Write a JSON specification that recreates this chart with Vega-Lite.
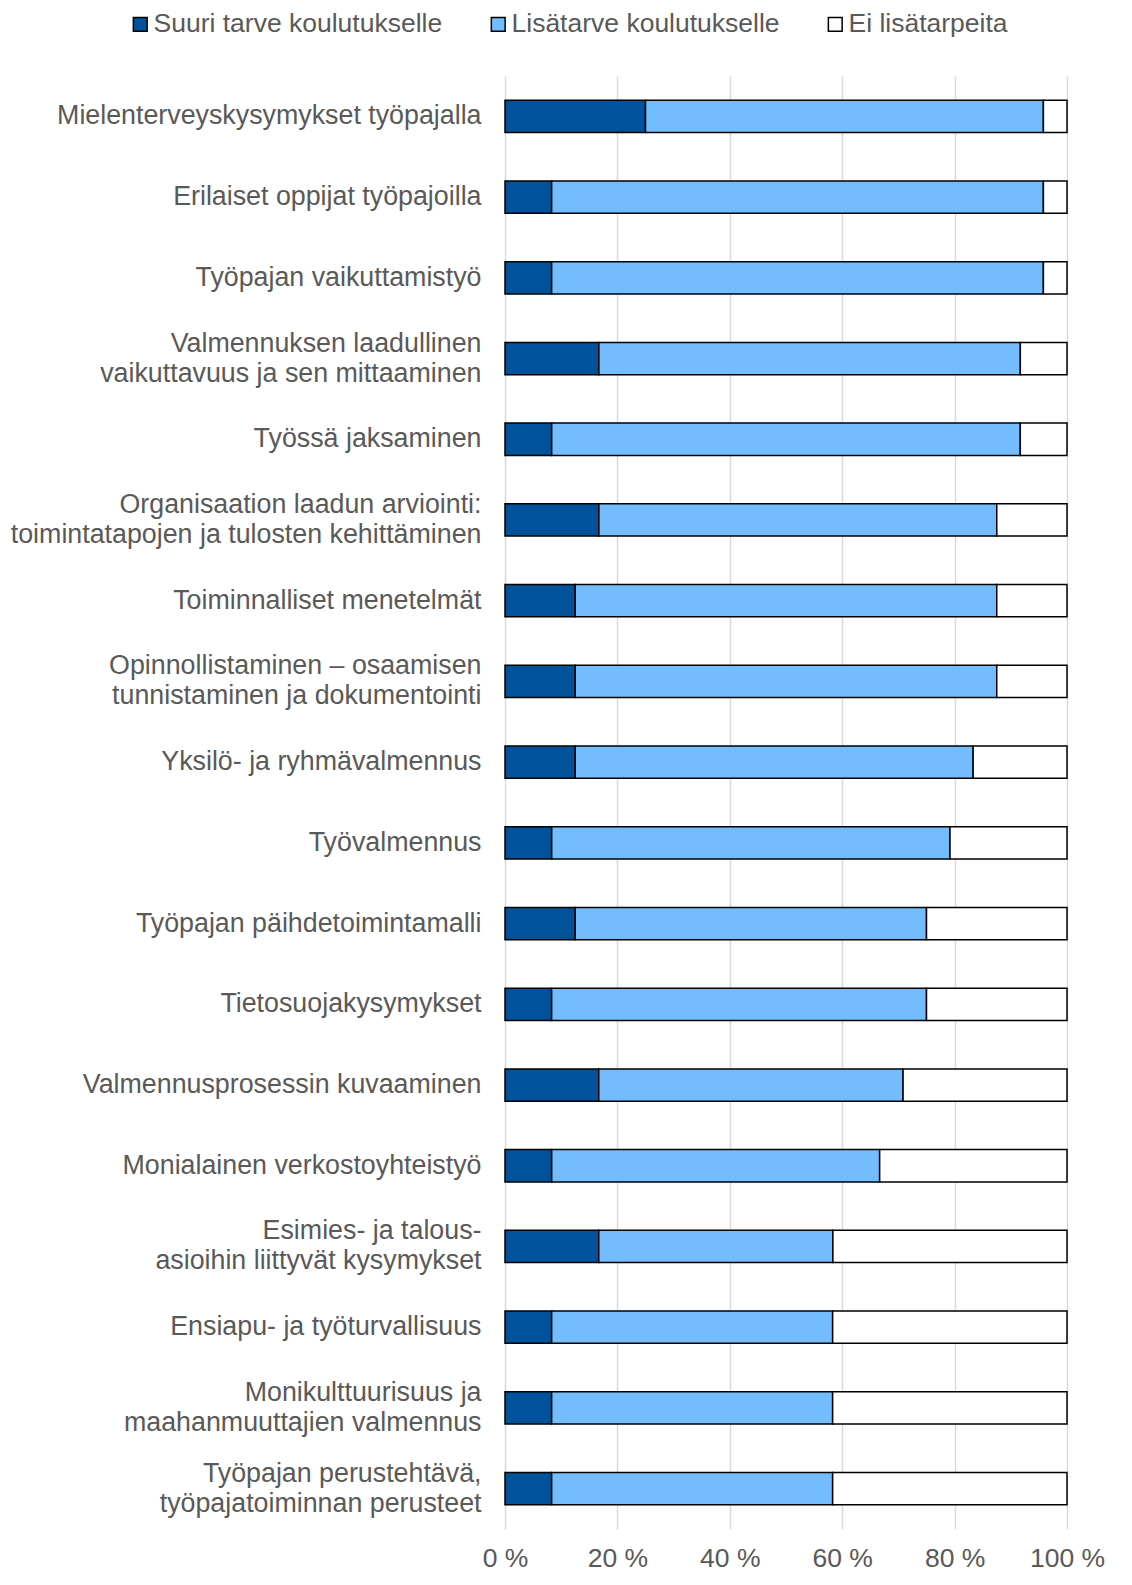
{
  "$schema": "https://vega.github.io/schema/vega-lite/v6.json",
  "autosize": {"type": "none"},
  "width": 562,
  "height": 1453,
  "padding": {"left": 505, "top": 76, "right": 65, "bottom": 56},
  "background": "white",
  "config": {
    "view": {"stroke": null},
    "font": "Liberation Sans",
    "axis": {"labelColor": "#595959", "labelFont": "Liberation Sans"},
    "legend": {"labelColor": "#595959", "labelFont": "Liberation Sans"}
  },
  "data": {
    "values": [
      {"aihe": "Mielenterveyskysymykset työpajalla", "sarja": "Suuri tarve koulutukselle", "jarj": 1, "osuus": 25.0},
      {"aihe": "Mielenterveyskysymykset työpajalla", "sarja": "Lisätarve koulutukselle", "jarj": 2, "osuus": 70.8},
      {"aihe": "Mielenterveyskysymykset työpajalla", "sarja": "Ei lisätarpeita", "jarj": 3, "osuus": 4.2},
      {"aihe": "Erilaiset oppijat työpajoilla", "sarja": "Suuri tarve koulutukselle", "jarj": 1, "osuus": 8.3},
      {"aihe": "Erilaiset oppijat työpajoilla", "sarja": "Lisätarve koulutukselle", "jarj": 2, "osuus": 87.5},
      {"aihe": "Erilaiset oppijat työpajoilla", "sarja": "Ei lisätarpeita", "jarj": 3, "osuus": 4.2},
      {"aihe": "Työpajan vaikuttamistyö", "sarja": "Suuri tarve koulutukselle", "jarj": 1, "osuus": 8.3},
      {"aihe": "Työpajan vaikuttamistyö", "sarja": "Lisätarve koulutukselle", "jarj": 2, "osuus": 87.5},
      {"aihe": "Työpajan vaikuttamistyö", "sarja": "Ei lisätarpeita", "jarj": 3, "osuus": 4.2},
      {"aihe": "Valmennuksen laadullinen\nvaikuttavuus ja sen mittaaminen", "sarja": "Suuri tarve koulutukselle", "jarj": 1, "osuus": 16.7},
      {"aihe": "Valmennuksen laadullinen\nvaikuttavuus ja sen mittaaminen", "sarja": "Lisätarve koulutukselle", "jarj": 2, "osuus": 75.0},
      {"aihe": "Valmennuksen laadullinen\nvaikuttavuus ja sen mittaaminen", "sarja": "Ei lisätarpeita", "jarj": 3, "osuus": 8.3},
      {"aihe": "Työssä jaksaminen", "sarja": "Suuri tarve koulutukselle", "jarj": 1, "osuus": 8.3},
      {"aihe": "Työssä jaksaminen", "sarja": "Lisätarve koulutukselle", "jarj": 2, "osuus": 83.3},
      {"aihe": "Työssä jaksaminen", "sarja": "Ei lisätarpeita", "jarj": 3, "osuus": 8.3},
      {"aihe": "Organisaation laadun arviointi:\ntoimintatapojen ja tulosten kehittäminen", "sarja": "Suuri tarve koulutukselle", "jarj": 1, "osuus": 16.7},
      {"aihe": "Organisaation laadun arviointi:\ntoimintatapojen ja tulosten kehittäminen", "sarja": "Lisätarve koulutukselle", "jarj": 2, "osuus": 70.8},
      {"aihe": "Organisaation laadun arviointi:\ntoimintatapojen ja tulosten kehittäminen", "sarja": "Ei lisätarpeita", "jarj": 3, "osuus": 12.5},
      {"aihe": "Toiminnalliset menetelmät", "sarja": "Suuri tarve koulutukselle", "jarj": 1, "osuus": 12.5},
      {"aihe": "Toiminnalliset menetelmät", "sarja": "Lisätarve koulutukselle", "jarj": 2, "osuus": 75.0},
      {"aihe": "Toiminnalliset menetelmät", "sarja": "Ei lisätarpeita", "jarj": 3, "osuus": 12.5},
      {"aihe": "Opinnollistaminen – osaamisen\ntunnistaminen ja dokumentointi", "sarja": "Suuri tarve koulutukselle", "jarj": 1, "osuus": 12.5},
      {"aihe": "Opinnollistaminen – osaamisen\ntunnistaminen ja dokumentointi", "sarja": "Lisätarve koulutukselle", "jarj": 2, "osuus": 75.0},
      {"aihe": "Opinnollistaminen – osaamisen\ntunnistaminen ja dokumentointi", "sarja": "Ei lisätarpeita", "jarj": 3, "osuus": 12.5},
      {"aihe": "Yksilö- ja ryhmävalmennus", "sarja": "Suuri tarve koulutukselle", "jarj": 1, "osuus": 12.5},
      {"aihe": "Yksilö- ja ryhmävalmennus", "sarja": "Lisätarve koulutukselle", "jarj": 2, "osuus": 70.8},
      {"aihe": "Yksilö- ja ryhmävalmennus", "sarja": "Ei lisätarpeita", "jarj": 3, "osuus": 16.7},
      {"aihe": "Työvalmennus", "sarja": "Suuri tarve koulutukselle", "jarj": 1, "osuus": 8.3},
      {"aihe": "Työvalmennus", "sarja": "Lisätarve koulutukselle", "jarj": 2, "osuus": 70.8},
      {"aihe": "Työvalmennus", "sarja": "Ei lisätarpeita", "jarj": 3, "osuus": 20.8},
      {"aihe": "Työpajan päihdetoimintamalli", "sarja": "Suuri tarve koulutukselle", "jarj": 1, "osuus": 12.5},
      {"aihe": "Työpajan päihdetoimintamalli", "sarja": "Lisätarve koulutukselle", "jarj": 2, "osuus": 62.5},
      {"aihe": "Työpajan päihdetoimintamalli", "sarja": "Ei lisätarpeita", "jarj": 3, "osuus": 25.0},
      {"aihe": "Tietosuojakysymykset", "sarja": "Suuri tarve koulutukselle", "jarj": 1, "osuus": 8.3},
      {"aihe": "Tietosuojakysymykset", "sarja": "Lisätarve koulutukselle", "jarj": 2, "osuus": 66.7},
      {"aihe": "Tietosuojakysymykset", "sarja": "Ei lisätarpeita", "jarj": 3, "osuus": 25.0},
      {"aihe": "Valmennusprosessin kuvaaminen", "sarja": "Suuri tarve koulutukselle", "jarj": 1, "osuus": 16.7},
      {"aihe": "Valmennusprosessin kuvaaminen", "sarja": "Lisätarve koulutukselle", "jarj": 2, "osuus": 54.2},
      {"aihe": "Valmennusprosessin kuvaaminen", "sarja": "Ei lisätarpeita", "jarj": 3, "osuus": 29.2},
      {"aihe": "Monialainen verkostoyhteistyö", "sarja": "Suuri tarve koulutukselle", "jarj": 1, "osuus": 8.3},
      {"aihe": "Monialainen verkostoyhteistyö", "sarja": "Lisätarve koulutukselle", "jarj": 2, "osuus": 58.3},
      {"aihe": "Monialainen verkostoyhteistyö", "sarja": "Ei lisätarpeita", "jarj": 3, "osuus": 33.3},
      {"aihe": "Esimies- ja talous-\nasioihin liittyvät kysymykset", "sarja": "Suuri tarve koulutukselle", "jarj": 1, "osuus": 16.7},
      {"aihe": "Esimies- ja talous-\nasioihin liittyvät kysymykset", "sarja": "Lisätarve koulutukselle", "jarj": 2, "osuus": 41.7},
      {"aihe": "Esimies- ja talous-\nasioihin liittyvät kysymykset", "sarja": "Ei lisätarpeita", "jarj": 3, "osuus": 41.7},
      {"aihe": "Ensiapu- ja työturvallisuus", "sarja": "Suuri tarve koulutukselle", "jarj": 1, "osuus": 8.3},
      {"aihe": "Ensiapu- ja työturvallisuus", "sarja": "Lisätarve koulutukselle", "jarj": 2, "osuus": 50.0},
      {"aihe": "Ensiapu- ja työturvallisuus", "sarja": "Ei lisätarpeita", "jarj": 3, "osuus": 41.7},
      {"aihe": "Monikulttuurisuus ja\u00a0\nmaahanmuuttajien valmennus", "sarja": "Suuri tarve koulutukselle", "jarj": 1, "osuus": 8.3},
      {"aihe": "Monikulttuurisuus ja\u00a0\nmaahanmuuttajien valmennus", "sarja": "Lisätarve koulutukselle", "jarj": 2, "osuus": 50.0},
      {"aihe": "Monikulttuurisuus ja\u00a0\nmaahanmuuttajien valmennus", "sarja": "Ei lisätarpeita", "jarj": 3, "osuus": 41.7},
      {"aihe": "Työpajan perustehtävä,\ntyöpajatoiminnan perusteet", "sarja": "Suuri tarve koulutukselle", "jarj": 1, "osuus": 8.3},
      {"aihe": "Työpajan perustehtävä,\ntyöpajatoiminnan perusteet", "sarja": "Lisätarve koulutukselle", "jarj": 2, "osuus": 50.0},
      {"aihe": "Työpajan perustehtävä,\ntyöpajatoiminnan perusteet", "sarja": "Ei lisätarpeita", "jarj": 3, "osuus": 41.7}
    ]
  },
  "mark": {"type": "bar", "stroke": "black", "strokeWidth": 1.5},
  "encoding": {
    "y": {
      "field": "aihe",
      "type": "nominal",
      "sort": null,
      "scale": {"paddingInner": 0.6, "paddingOuter": 0.3},
      "axis": {
        "title": null,
        "domain": false,
        "ticks": false,
        "labelFontSize": 26.8,
        "labelLineHeight": 30,
        "labelPadding": 24,
        "labelLimit": 700,
        "labelOffset": {"condition": {"test": "indexof(datum.value, '\\n') >= 0", "value": -15}, "value": 0},
        "labelExpr": "split(datum.value, '\\n')"
      }
    },
    "x": {
      "field": "osuus",
      "type": "quantitative",
      "stack": "normalize",
      "scale": {"domain": [0, 1]},
      "axis": {
        "title": null,
        "values": [0, 0.2, 0.4, 0.6, 0.8, 1],
        "domain": false,
        "ticks": false,
        "grid": true,
        "gridColor": "#d9d9d9",
        "gridWidth": 1.5,
        "labelFontSize": 26.5,
        "labelPadding": 16,
        "labelFlush": false,
        "labelExpr": "format(datum.value * 100, 'd') + ' %'"
      }
    },
    "color": {
      "field": "sarja",
      "type": "nominal",
      "scale": {
        "domain": ["Suuri tarve koulutukselle", "Lisätarve koulutukselle", "Ei lisätarpeita"],
        "range": ["#00539B", "#73BDFF", "#FFFFFF"]
      },
      "legend": {
        "title": null,
        "orient": "none",
        "direction": "horizontal",
        "legendX": -378,
        "legendY": -65,
        "symbolType": "square",
        "symbolSize": 190,
        "symbolStrokeColor": "black",
        "symbolStrokeWidth": 1.5,
        "labelFontSize": 26.5,
        "labelOffset": 0,
        "labelLimit": 600,
        "columnPadding": 42
      }
    },
    "order": {"field": "jarj", "type": "quantitative"}
  }
}
